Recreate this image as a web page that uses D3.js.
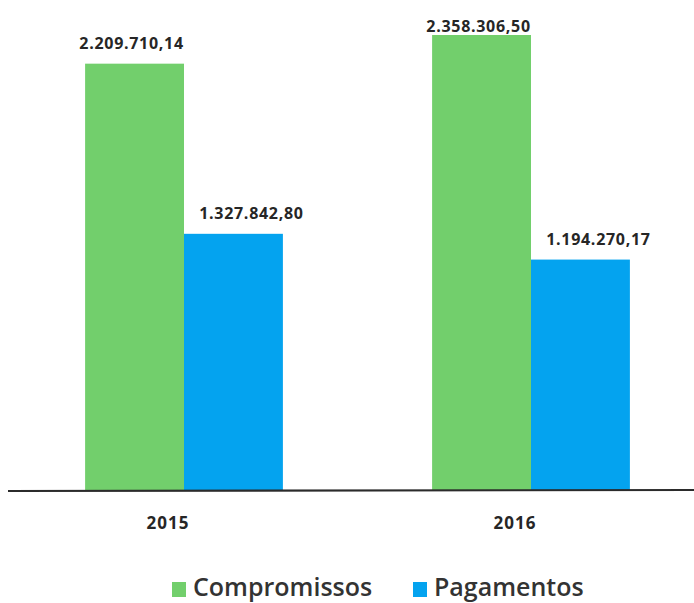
<!DOCTYPE html>
<html>
<head>
<meta charset="utf-8">
<script src="https://cdn.jsdelivr.net/npm/d3@7"></script>
<style>
  body { margin: 0; background: #fff; }
  svg { display: block; font-family: "Open Sans", sans-serif; }
</style>
</head>
<body>
<div id="stage"></div>
<script>
var years = ['2015', '2016'];
var seriesNames = ['Compromissos', 'Pagamentos'];
var compromissos = [2209710.14, 2358306.50];
var pagamentos = [1327842.80, 1194270.17];
var valueLabels = [['2.209.710,14', '1.327.842,80'], ['2.358.306,50', '1.194.270,17']];

(function(d3) {
    'use strict';

    var width = 694,
        height = 603,
        baseY = 490,
        colors = ['#72cf6c', '#04a3ef'],
        labelShift = [-3, 18],
        svg, x0, x1, y, groups, legend;

    svg = d3.select('#stage')
        .append('svg')
        .attr('width', width)
        .attr('height', height);

    x0 = d3.scaleBand()
        .domain(years)
        .range([10.5, 704.5])
        .paddingInner(0.43)
        .paddingOuter(0.215);

    x1 = d3.scaleBand()
        .domain(seriesNames)
        .range([0, x0.bandwidth()]);

    y = d3.scaleLinear()
        .domain([0, 2400000])
        .range([baseY, baseY - 455 * 2400000 / 2358306]);

    groups = svg.selectAll('.year')
        .data(years.map(function(yr, i) {
            return { year: yr, values: [compromissos[i], pagamentos[i]], labels: valueLabels[i] };
        }))
        .enter()
        .append('g')
        .attr('class', 'year')
        .attr('transform', function(d) { return 'translate(' + x0(d.year) + ',0)'; });

    groups.selectAll('rect')
        .data(function(d) {
            return d.values.map(function(v, j) { return { name: seriesNames[j], value: v, idx: j }; });
        })
        .enter()
        .append('rect')
        .attr('x', function(d) { return x1(d.name); })
        .attr('y', function(d) { return y(d.value); })
        .attr('width', x1.bandwidth())
        .attr('height', function(d) { return baseY - y(d.value); })
        .style('fill', function(d) { return colors[d.idx]; });

    // labels get pushed down against the top edge, like the original
    groups.selectAll('.vlabel')
        .data(function(d) {
            return d.values.map(function(v, j) { return { name: seriesNames[j], value: v, label: d.labels[j], idx: j }; });
        })
        .enter()
        .append('text')
        .attr('class', 'vlabel')
        .attr('x', function(d) { return x1(d.name) + x1.bandwidth() / 2 + labelShift[d.idx]; })
        .attr('y', function(d) { return Math.max(32, y(d.value) - 15); })
        .attr('text-anchor', 'middle')
        .style('font-size', '16px')
        .style('font-weight', 700)
        .style('letter-spacing', '0.7px')
        .style('fill', '#262626')
        .text(function(d) { return d.label; });

    // axis line
    svg.append('line')
        .attr('x1', 8)
        .attr('x2', 694)
        .attr('y1', baseY + 1)
        .attr('y2', baseY)
        .style('stroke', '#2b2b2b')
        .style('stroke-width', 2.2);

    svg.selectAll('.ylabel')
        .data(years)
        .enter()
        .append('text')
        .attr('class', 'ylabel')
        .attr('x', function(d) { return x0(d) + x0.bandwidth() / 2 - 16; })
        .attr('y', 529)
        .attr('text-anchor', 'middle')
        .style('font-size', '17px')
        .style('font-weight', 700)
        .style('letter-spacing', '1px')
        .style('fill', '#262626')
        .text(function(d) { return d; });

    // legend
    var legendX = [172, 413];
    legend = svg.selectAll('.legend')
        .data(seriesNames)
        .enter()
        .append('g')
        .attr('class', 'legend')
        .attr('transform', function(d, i) { return 'translate(' + legendX[i] + ',582)'; });

    legend.append('rect')
        .attr('width', 14)
        .attr('height', 15)
        .style('fill', function(d, i) { return colors[i]; });

    legend.append('text')
        .attr('x', 21)
        .attr('y', 14)
        .style('font-size', '25px')
        .style('font-weight', 600)
        .style('fill', '#333')
        .text(function(d) { return d; });

})(window.d3);
</script>
</body>
</html>
